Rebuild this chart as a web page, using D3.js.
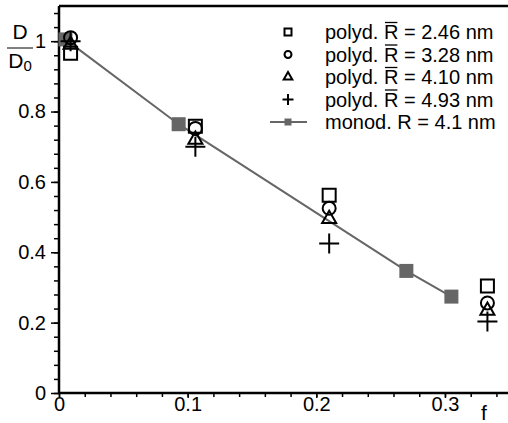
<!DOCTYPE html>
<html>
<head>
<meta charset="utf-8">
<script src="https://cdn.jsdelivr.net/npm/d3@7"></script>
<style>
  body { margin: 0; background: #fff; }
  text { font-family: "Liberation Sans", Arial, sans-serif; fill: #000; }
</style>
</head>
<body>
<svg width="508" height="423"></svg>
<script>
// volume fraction for the polydisperse sets
const fPoly = [0.009, 0.106, 0.21, 0.333];
const dSquare = [0.966, 0.758, 0.562, 0.304];   // R = 2.46 nm
const dCircle = [1.01, 0.752, 0.525, 0.256];    // R = 3.28 nm
const dTriangle = [0.99, 0.72, 0.495, 0.234];   // R = 4.10 nm
const dPlus = [1.0, 0.70, 0.425, 0.203];        // R = 4.93 nm
// monodisperse
const fMono = [0.005, 0.093, 0.27, 0.305];
const dMono = [1.005, 0.764, 0.347, 0.274];

const xTicks = [0, 0.1, 0.2, 0.3];
const yTicks = [0, 0.2, 0.4, 0.6, 0.8, 1];
const legendLabels = ["2.46", "3.28", "4.10", "4.93"];

const svg = d3.select("svg");
const x = d3.scaleLinear().domain([0, 0.349]).range([59, 508]);
const y = d3.scaleLinear().domain([0, 1.1]).range([393, 6]);
const gray = "#666";
const font = "Liberation Sans, Arial, sans-serif";

// frame top
svg.append("line").attr("x1", 59).attr("x2", 508).attr("y1", 6).attr("y2", 6)
  .attr("stroke", "#000").attr("stroke-width", 2.5);

// x axis
const xAxis = svg.append("g").attr("transform", "translate(0,393)");
xAxis.call(d3.axisBottom(x).tickValues(d3.range(0, 0.35, 0.02)).tickSize(4).tickFormat(""));
xAxis.append("g").call(d3.axisBottom(x).tickValues(xTicks).tickSize(5).tickFormat(d3.format("")));
xAxis.selectAll("line").attr("stroke-width", 1.5);
xAxis.selectAll("text").attr("font-size", 20).attr("dy", "0.72em").attr("y", 4)
  .style("font-family", font);

// y axis
const yAxis = svg.append("g").attr("transform", "translate(59,0)");
yAxis.call(d3.axisLeft(y).tickValues(d3.range(0, 1.09, 0.04)).tickSize(5).tickFormat(""));
yAxis.append("g").call(d3.axisLeft(y).tickValues(yTicks).tickSize(8).tickFormat(d3.format("")));
yAxis.selectAll("line").attr("stroke-width", 1.5);
yAxis.selectAll("text").attr("font-size", 20).attr("x", -13)
  .style("font-family", font);

// axis lines drawn over the ticks
svg.append("path").attr("d", "M59,6V393H508")
  .attr("fill", "none").attr("stroke", "#000").attr("stroke-width", 2.5);
xAxis.selectAll(".domain").remove();
yAxis.selectAll(".domain").remove();

// axis titles
svg.append("text").attr("x", 484).attr("y", 420).attr("text-anchor", "middle")
  .attr("font-size", 21).text("f");
svg.append("text").attr("x", 20).attr("y", 39).attr("text-anchor", "middle")
  .attr("font-size", 21).text("D");
svg.append("line").attr("x1", 7).attr("x2", 33).attr("y1", 48).attr("y2", 48)
  .attr("stroke", "#000").attr("stroke-width", 1);
const d0 = svg.append("text").attr("x", 20).attr("y", 68).attr("text-anchor", "middle")
  .attr("font-size", 21);
d0.append("tspan").text("D");
d0.append("tspan").attr("font-size", 15).attr("dy", 3).text("0");

// monodisperse line + squares
const mono = fMono.map((f, i) => [f, dMono[i]]);
svg.append("path").datum(mono)
  .attr("d", d3.line().x(d => x(d[0])).y(d => y(d[1])))
  .attr("fill", "none").attr("stroke", gray).attr("stroke-width", 2);
svg.append("g").selectAll("rect").data(mono).enter().append("rect")
  .attr("x", d => x(d[0]) - 7).attr("y", d => y(d[1]) - 7)
  .attr("width", 14).attr("height", 14).attr("fill", gray);

// polydisperse markers
const sym = {
  square: d3.symbol(d3.symbolSquare, 169),
  circle: d3.symbol(d3.symbolCircle, 133),
  triangle: d3.symbol(d3.symbolTriangle, 85),
  plus: (s) => `M${-s},0H${s}M0,${-s}V${s}`
};
function drawSet(vals, kind, size) {
  const g = svg.append("g");
  g.selectAll("path").data(fPoly.map((f, i) => [f, vals[i]])).enter().append("path")
    .attr("transform", d => `translate(${x(d[0])},${y(d[1])})`)
    .attr("d", kind === "plus" ? sym.plus(size) : sym[kind]())
    .attr("fill", "none").attr("stroke", "#000").attr("stroke-width", 2);
}
drawSet(dSquare, "square");
drawSet(dCircle, "circle");
drawSet(dTriangle, "triangle");
drawSet(dPlus, "plus", 10);

// legend
const legY = [32, 54.5, 77, 99.5, 122];
const leg = svg.append("g");
const legKinds = ["square", "circle", "triangle", "plus"];
const legSym = {
  square: d3.symbol(d3.symbolSquare, 49)(),
  circle: d3.symbol(d3.symbolCircle, 38)(),
  triangle: d3.symbol(d3.symbolTriangle, 32)(),
  plus: sym.plus(5.5)
};
legendLabels.forEach((lab, i) => {
  leg.append("path").attr("transform", `translate(288,${legY[i]})`)
    .attr("d", legSym[legKinds[i]]).attr("fill", "none")
    .attr("stroke", "#000").attr("stroke-width", 2);
  const t = leg.append("text").attr("x", 325).attr("y", legY[i] + 7).attr("font-size", 20);
  const pre = t.append("tspan").text("polyd. ");
  const r = t.append("tspan").text("R");
  t.append("tspan").text(" = " + lab + " nm");
  // overline over R, just above the cap height
  const x0 = 325 + pre.node().getComputedTextLength();
  const w = r.node().getComputedTextLength();
  leg.append("line").attr("x1", x0 + 1).attr("x2", x0 + w - 1)
    .attr("y1", legY[i] - 9.5).attr("y2", legY[i] - 9.5)
    .attr("stroke", "#000").attr("stroke-width", 1.3);
});
leg.append("line").attr("x1", 270).attr("x2", 307).attr("y1", legY[4]).attr("y2", legY[4])
  .attr("stroke", gray).attr("stroke-width", 2);
leg.append("rect").attr("x", 284.5).attr("y", legY[4] - 3.5).attr("width", 7).attr("height", 7)
  .attr("fill", gray);
leg.append("text").attr("x", 325).attr("y", legY[4] + 7).attr("font-size", 20)
  .text("monod. R = 4.1 nm");
</script>
</body>
</html>
